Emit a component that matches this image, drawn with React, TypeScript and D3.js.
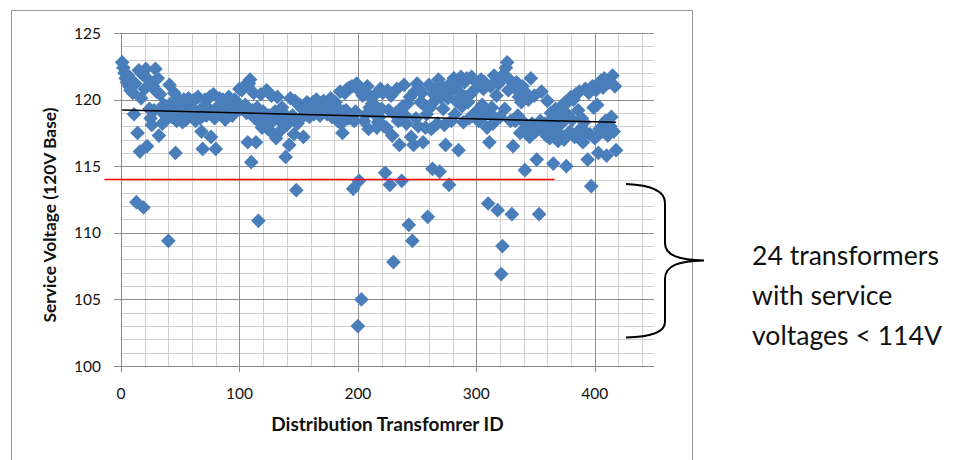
import React, { useEffect, useRef } from 'react';
import * as d3 from 'd3';

// service voltage per distribution transformer, ids 1..418
const voltages: number[] = [
  122.8, 122.4, 122.0, 121.6, 121.3, 121.8, 121.0, 120.7, 121.4, 120.5,
  118.9, 121.2, 112.3, 117.5, 122.2, 116.1, 120.1, 121.9, 111.9, 120.8,
  122.3, 116.5, 121.5, 119.3, 118.6, 118.1, 121.0, 119.2, 122.3, 120.6,
  121.6, 117.3, 120.4, 119.1, 118.2, 119.6, 118.4, 119.5, 119.0, 109.4,
  121.1, 119.7, 118.7, 119.2, 120.5, 116.0, 118.4, 120.1, 118.9, 119.6,
  119.0, 118.3, 120.0, 119.1, 118.5, 118.7, 120.1, 119.3, 119.8, 118.9,
  119.3, 120.0, 118.4, 119.0, 120.2, 119.0, 118.6, 117.6, 116.3, 119.5,
  120.0, 118.8, 119.4, 119.3, 120.2, 117.2, 119.0, 120.4, 118.6, 116.3,
  119.4, 119.2, 120.1, 118.9, 119.0, 120.0, 119.1, 118.5, 119.6, 119.6,
  120.2, 119.4, 119.5, 118.8, 119.1, 120.0, 119.2, 119.7, 119.5, 120.8,
  119.3, 120.7, 119.3, 121.0, 119.6, 119.0, 116.8, 121.2, 121.5, 115.3,
  119.2, 120.5, 118.6, 116.8, 119.4, 110.9, 118.3, 120.4, 117.9, 119.1,
  118.6, 118.9, 120.7, 117.8, 118.8, 118.2, 120.3, 118.5, 117.4, 119.1,
  117.1, 120.2, 118.5, 118.7, 117.7, 119.4, 118.9, 118.9, 115.7, 118.1,
  118.6, 116.6, 120.1, 118.7, 118.8, 117.4, 119.9, 113.2, 118.2, 119.6,
  119.6, 118.6, 119.3, 117.2, 119.4, 118.9, 119.8, 119.1, 118.7, 119.4,
  119.2, 119.8, 118.9, 119.3, 120.0, 119.0, 119.5, 118.8, 119.7, 119.3,
  119.9, 119.2, 119.5, 118.9, 119.8, 119.1, 120.1, 118.7, 119.6, 119.3,
  119.8, 119.1, 118.4, 119.3, 120.6, 118.2, 117.5, 119.1, 120.5, 119.2,
  120.8, 118.6, 120.9, 118.6, 121.0, 113.3, 118.4, 119.1, 121.2, 103.0,
  113.9, 120.6, 105.0, 120.3, 118.4, 120.4, 118.9, 121.0, 117.8, 119.4,
  120.2, 119.7, 119.0, 119.6, 120.4, 117.9, 118.3, 118.7, 120.8, 119.3,
  120.5, 118.0, 114.5, 117.9, 120.7, 119.2, 113.6, 120.3, 117.3, 107.8,
  118.9, 119.0, 120.8, 118.4, 116.6, 118.5, 113.9, 119.5, 121.1, 118.8,
  118.2, 119.7, 110.6, 120.2, 117.2, 109.4, 116.6, 120.6, 118.6, 121.2,
  118.0, 120.7, 119.8, 120.5, 116.8, 119.6, 117.9, 118.9, 111.2, 121.1,
  119.4, 117.8, 114.8, 120.4, 119.9, 120.8, 118.2, 121.5, 114.6, 120.2,
  121.0, 119.3, 118.1, 116.6, 120.3, 120.1, 113.6, 121.2, 118.4, 120.8,
  121.6, 118.9, 119.9, 121.1, 116.2, 120.5, 121.7, 119.5, 118.3, 121.3,
  120.2, 121.6, 119.8, 118.6, 120.4, 121.7, 118.8, 120.7, 121.4, 119.1,
  121.2, 118.4, 118.5, 121.5, 119.6, 120.8, 121.3, 118.9, 117.9, 112.2,
  116.8, 121.0, 119.4, 118.2, 121.8, 118.6, 120.3, 111.7, 121.2, 118.7,
  106.9, 109.0, 121.9, 119.3, 122.4, 122.8, 120.7, 121.5, 118.4, 111.4,
  116.5, 120.9, 118.4, 121.3, 118.8, 120.2, 117.5, 119.8, 121.0, 118.3,
  114.7, 120.5, 117.6, 120.0, 117.2, 121.6, 118.2, 118.1, 120.3, 117.6,
  115.5, 117.9, 111.4, 118.4, 120.6, 117.8, 118.1, 118.2, 117.3, 119.9,
  118.0, 117.1, 119.0, 118.6, 115.2, 117.5, 119.3, 118.1, 116.9, 118.8,
  117.4, 119.5, 118.3, 117.0, 119.8, 115.0, 118.9, 119.9, 117.6, 120.2,
  118.5, 120.0, 117.2, 120.4, 117.4, 119.2, 120.6, 117.8, 118.6, 116.8,
  118.3, 120.8, 117.5, 115.5, 120.5, 117.4, 113.5, 121.0, 119.4, 117.1,
  120.7, 119.6, 116.0, 117.8, 121.4, 117.6, 120.9, 121.6, 118.4, 115.8,
  117.3, 121.3, 118.0, 118.7, 121.8, 117.6, 121.0, 116.2,
];

const xTicks = [0, 100, 200, 300, 400];
const yTicks = [100, 105, 110, 115, 120, 125];
const limitVoltage = 114;
const limitSpan = [-14, 366];
const noteLines = ['24 transformers', 'with service', 'voltages < 114V'];

const FONT = 'Lato, "Open Sans", sans-serif';

const App = () => {
  const svgRef = useRef<SVGSVGElement | null>(null);

  useEffect(() => {
    drawChart();
  }, []);

  const drawChart = () => {
    const svg = d3.select(svgRef.current);
    svg.selectAll('*').remove();

    const left = 121, right = 654, top = 33, bottom = 366;
    const x = d3.scaleLinear().domain([0, 450]).range([left, right]);
    const y = d3.scaleLinear().domain([100, 125]).range([bottom, top]);

    // chart frame
    svg.append('rect')
      .attr('x', 11.5).attr('y', 10.5)
      .attr('width', 681).attr('height', 470)
      .attr('fill', 'white').attr('stroke', '#9a9a9a');

    const grid = svg.append('g').attr('shape-rendering', 'crispEdges');
    // minor grid
    grid.selectAll('.vmin')
      .data(d3.range(20, 450, 20).filter(v => v % 100 !== 0))
      .join('line')
      .attr('x1', d => Math.round(x(d)) + 0.5).attr('x2', d => Math.round(x(d)) + 0.5)
      .attr('y1', top).attr('y2', bottom)
      .attr('stroke', '#cfcfcf').attr('stroke-width', 1.5);
    grid.selectAll('.hmin')
      .data(d3.range(101, 125, 1).filter(v => v % 5 !== 0))
      .join('line')
      .attr('x1', left).attr('x2', right)
      .attr('y1', d => Math.round(y(d)) + 0.5).attr('y2', d => Math.round(y(d)) + 0.5)
      .attr('stroke', '#cfcfcf').attr('stroke-width', 1.5);
    // major grid
    grid.selectAll('.vmaj')
      .data(xTicks.filter(v => v > 0))
      .join('line')
      .attr('x1', d => Math.round(x(d)) + 0.5).attr('x2', d => Math.round(x(d)) + 0.5)
      .attr('y1', top).attr('y2', bottom + 6)
      .attr('stroke', '#8e8e8e').attr('stroke-width', 1.5);
    grid.selectAll('.hmaj')
      .data(yTicks.filter(v => v > 100))
      .join('line')
      .attr('x1', left - 7).attr('x2', right)
      .attr('y1', d => Math.round(y(d)) + 0.5).attr('y2', d => Math.round(y(d)) + 0.5)
      .attr('stroke', '#8e8e8e').attr('stroke-width', 1.5);

    // axes
    grid.append('line')
      .attr('x1', left + 0.5).attr('x2', left + 0.5)
      .attr('y1', top).attr('y2', bottom + 6)
      .attr('stroke', '#868686').attr('stroke-width', 1.5);
    grid.append('line')
      .attr('x1', left - 7).attr('x2', right)
      .attr('y1', bottom + 0.5).attr('y2', bottom + 0.5)
      .attr('stroke', '#868686').attr('stroke-width', 1.5);

    const txt = svg.append('g')
      .attr('font-family', FONT)
      .style('font-variant-ligatures', 'none')
      .attr('fill', '#111');

    // tick labels
    txt.selectAll('.ylab')
      .data(yTicks)
      .join('text')
      .attr('x', left - 20).attr('y', d => y(d) + 5.5)
      .attr('text-anchor', 'end')
      .attr('font-size', 15.5)
      .text(d => d);
    txt.selectAll('.xlab')
      .data(xTicks)
      .join('text')
      .attr('x', d => x(d)).attr('y', bottom + 33)
      .attr('text-anchor', 'middle')
      .attr('font-size', 15.5)
      .text(d => d);

    // axis titles
    txt.append('text')
      .attr('transform', 'translate(56, 215) rotate(-90)')
      .attr('text-anchor', 'middle')
      .attr('font-weight', 'bold').attr('font-size', 17.4)
      .text('Service Voltage (120V Base)');
    txt.append('text')
      .attr('x', (left + right) / 2).attr('y', 431)
      .attr('text-anchor', 'middle')
      .attr('font-weight', 'bold').attr('font-size', 19)
      .text('Distribution Transfomrer ID');

    // points
    const pts = voltages.map((v, i) => ({ id: i + 1, v }));
    const diamond = d3.symbol().type(d3.symbolSquare).size(108);
    svg.append('g')
      .selectAll('path')
      .data(pts)
      .join('path')
      .attr('d', diamond)
      .attr('transform', d => `translate(${x(d.id)},${y(d.v)}) rotate(45)`)
      .attr('fill', '#4a7ebb');

    // linear trend
    const n = pts.length;
    const mx = d3.mean(pts, d => d.id) as number;
    const my = d3.mean(pts, d => d.v) as number;
    const slope = d3.sum(pts, d => (d.id - mx) * (d.v - my)) / d3.sum(pts, d => (d.id - mx) ** 2);
    const icpt = my - slope * mx;
    const trend = d3.line<number>().x(d => x(d)).y(d => y(icpt + slope * d));
    svg.append('path')
      .attr('d', trend([pts[0].id, pts[n - 1].id]))
      .attr('stroke', 'black').attr('stroke-width', 1.5).attr('fill', 'none');

    // 114V limit
    svg.append('line')
      .attr('x1', x(limitSpan[0])).attr('x2', x(limitSpan[1]))
      .attr('y1', y(limitVoltage)).attr('y2', y(limitVoltage))
      .attr('stroke', '#ff0000').attr('stroke-width', 1.5);

    // brace
    const brace = d3.path();
    brace.moveTo(626, 184);
    brace.bezierCurveTo(650, 185, 665, 190, 665, 203);
    brace.lineTo(665, 243);
    brace.bezierCurveTo(665, 256, 680, 260, 704, 260.5);
    brace.bezierCurveTo(680, 261, 665, 265, 665, 279);
    brace.lineTo(665, 322);
    brace.bezierCurveTo(665, 333, 650, 337, 626, 337.5);
    svg.append('path')
      .attr('d', brace.toString())
      .attr('stroke', 'black').attr('stroke-width', 2).attr('fill', 'none');

    txt.selectAll('.note')
      .data(noteLines)
      .join('text')
      .attr('x', 752).attr('y', (d, i) => 265 + i * 40)
      .attr('font-size', 26.6)
      .text(d => d);
  };

  return (
    <svg ref={svgRef} width={953} height={460}
      style={{ position: 'absolute', left: 0, top: 0, background: 'white' }} />
  );
};

export default App;
